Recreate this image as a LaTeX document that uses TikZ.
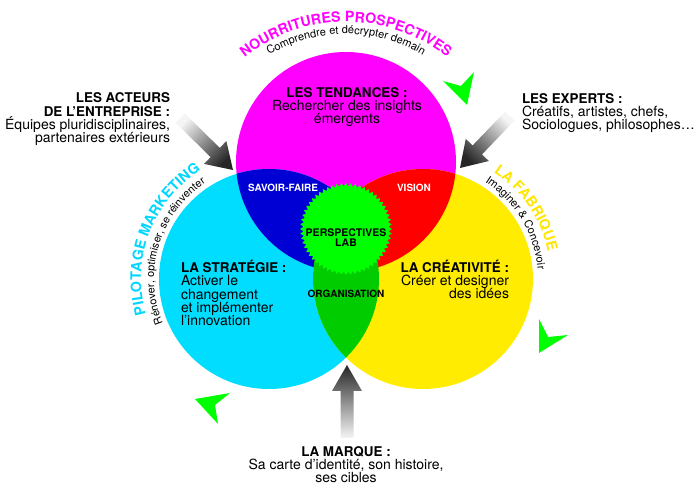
\documentclass[tikz,border=0pt]{standalone}
\usepackage{fontspec}
\setmainfont{TeX Gyre Heros}
\usetikzlibrary{shapes.geometric,decorations.text}
\definecolor{mag}{RGB}{255,0,255}
\definecolor{cya}{RGB}{0,221,255}
\definecolor{yel}{RGB}{255,236,0}
\definecolor{blu}{RGB}{0,0,212}
\definecolor{redd}{RGB}{255,0,0}
\definecolor{grn}{RGB}{0,204,0}
\definecolor{limeg}{RGB}{0,255,0}
\definecolor{ctext}{RGB}{0,214,255}
\definecolor{ytext}{RGB}{255,230,0}
\definecolor{darkarrow}{RGB}{38,38,38}
\definecolor{lightarrow}{RGB}{245,245,245}
\newcommand\fs[2]{\fontsize{#1}{#2}\selectfont}
\newcommand\hdline[1]{{\fs{13.4}{13.4}\bfseries #1}}
\begin{document}
\begin{tikzpicture}[x=1pt,y=1pt,
  every node/.style={inner sep=0pt,outer sep=0pt},
  body/.style={font=\fs{14}{13.4}},
  tag/.style={font=\fs{10}{10}\bfseries},
  greenhead/.style={fill=limeg},
  grayarrow/.style={top color=darkarrow,bottom color=lightarrow}]
\useasboundingbox (0,0) rectangle (700,494);
\coordinate (cm) at (346,332);
\coordinate (cc) at (269,215);
\coordinate (cy) at (423,215);
\coordinate (ctop) at (346,309);
% circles
\fill[mag] (cm) circle[radius=110];
\fill[cya] (cc) circle[radius=110];
\fill[yel] (cy) circle[radius=110];
\begin{scope}
  \clip (cm) circle[radius=110];
  \fill[blu] (cc) circle[radius=110];
  \fill[redd] (cy) circle[radius=110];
\end{scope}
\begin{scope}
  \clip (cc) circle[radius=110];
  \fill[grn] (cy) circle[radius=110];
\end{scope}
% starburst
\node[star,star points=60,star point ratio=1.08,minimum size=92pt,fill=limeg] (burst) at (346,265) {};
\node[font=\fs{10.5}{10}\bfseries,align=center,anchor=base] (labtxt) at (346,247) {PERSPECTIVES\\LAB};
% region tags
\node[tag,text=white,anchor=base] (savoir) at (283,302) {SAVOIR-FAIRE};
\node[tag,text=white,anchor=base] (vision) at (414,302) {VISION};
\node[tag,anchor=base] (orga) at (346,196) {ORGANISATION};
% text blocks (anchor = baseline of last line)
\node[body,align=center,anchor=base] (tend) at (347,370) {\hdline{LES TENDANCES :}\\Rechercher des insights\\émergents};
\node[body,align=right,anchor=base east] (acteurs) at (170,351) {\hdline{LES ACTEURS}\\\hdline{DE L’ENTREPRISE :}\\Équipes pluridisciplinaires,\\partenaires extérieurs};
\node[body,align=left,anchor=base west] (experts) at (522,364) {\hdline{LES EXPERTS :}\\Créatifs, artistes, chefs,\\Sociologues, philosophes…};
\node[body,align=center,anchor=base] (marque) at (346,11) {\hdline{LA MARQUE :}\\Sa carte d’identité, son histoire,\\ses cibles};
\node[body,align=left,anchor=base west] (strat) at (181,168) {\hdline{LA STRATÉGIE :}\\Activer le\\changement\\et implémenter\\l’innovation};
\node[body,align=right,anchor=base east] (crea) at (509,195) {\hdline{LA CRÉATIVITÉ :}\\Créer et designer\\des idées};
% curved titles
\path[decorate,decoration={text along path,text align=center,text color=mag,
  text={|\fs{14.2}{14.2}\bfseries|NOURRITURES PROSPECTIVES}}]
  (ctop) ++(150:163) arc[start angle=150,end angle=30,radius=163];
\path[decorate,decoration={text along path,text align=center,
  text={|\fs{11}{11}|Comprendre et décrypter demain}}]
  (ctop) ++(150:151) arc[start angle=150,end angle=30,radius=151];
\path[decorate,decoration={text along path,text align=center,text color=ctext,
  text={|\fs{14.4}{14.4}\bfseries|PILOTAGE MARKETING}}]
  (cc) ++(229:128) arc[start angle=229,end angle=89,radius=128];
\path[decorate,decoration={text along path,text align=center,
  text={|\fs{10.8}{11}|Rénover, optimiser, se réinventer}}]
  (cc) ++(233:115) arc[start angle=233,end angle=93,radius=115];
\path[decorate,decoration={text along path,text align=center,text color=ytext,
  text={|\fs{14.4}{14.4}\bfseries|LA FABRIQUE}}]
  (cy) ++(100:128) arc[start angle=100,end angle=-31,radius=128];
\path[decorate,decoration={text along path,text align=center,
  text={|\fs{11}{11}|Imaginer {\&} Concevoir}}]
  (cy) ++(96:115) arc[start angle=96,end angle=-34,radius=115];
% gray arrows
\begin{scope}[shift={(233,324)},rotate=-44.5]
  \shade[grayarrow,shading angle=-134.5] (-74,-6.5) -- (-25,-6.5) -- (-25,-16) -- (0,0) -- (-25,16) -- (-25,6.5) -- (-74,6.5) -- cycle;
\end{scope}
\begin{scope}[shift={(460,326)},rotate=-133.8]
  \shade[grayarrow,shading angle=136.2] (-72,-6.5) -- (-25,-6.5) -- (-25,-16) -- (0,0) -- (-25,16) -- (-25,6.5) -- (-72,6.5) -- cycle;
\end{scope}
\begin{scope}[shift={(347,129)},rotate=90]
  \shade[grayarrow,shading angle=0] (-73,-6.5) -- (-26,-6.5) -- (-26,-15) -- (0,0) -- (-26,15) -- (-26,6.5) -- (-73,6.5) -- cycle;
\end{scope}
% green arrowheads
\fill[greenhead] (467,389) -- (443,413) -- (461,408) -- (474,422) -- cycle;
\fill[greenhead] (539,141) -- (539,175) -- (548,157) -- (568,159) -- cycle;
\fill[greenhead] (195,95) -- (230,101) -- (215,89) -- (218,70) -- cycle;
\end{tikzpicture}
\end{document}
